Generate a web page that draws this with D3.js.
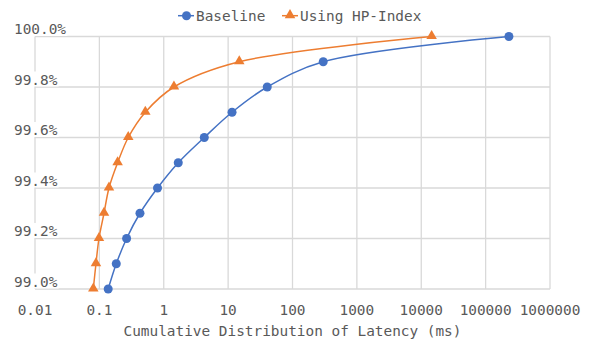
<!DOCTYPE html>
<html>
<head>
<meta charset="utf-8">
<script src="https://cdn.jsdelivr.net/npm/d3@7"></script>
<style>
  html, body { margin: 0; padding: 0; background: #fff; }
  svg { display: block; }
  text { font-family: "DejaVu Sans Mono", monospace; fill: #595959; }
</style>
</head>
<body>
<svg id="chart" width="590" height="341"></svg>
<script>
// Cumulative share of requests (percent) at each latency level
const percentiles = [99.0, 99.1, 99.2, 99.3, 99.4, 99.5, 99.6, 99.7, 99.8, 99.9, 100.0];
// Latency in ms reached at each percentile
const baselineLatency = [0.137, 0.183, 0.265, 0.427, 0.80, 1.68, 4.26, 11.5, 40.5, 300, 230000];
const hpIndexLatency = [0.0805, 0.0885, 0.0986, 0.118, 0.141, 0.192, 0.281, 0.517, 1.44, 14.9, 14500];

const seriesNames = ["Baseline", "Using HP-Index"];
const xTickValues = [0.01, 0.1, 1, 10, 100, 1000, 10000, 100000, 1000000];
const xTickLabels = ["0.01", "0.1", "1", "10", "100", "1000", "10000", "100000", "1000000"];
const yTickValues = [99.0, 99.2, 99.4, 99.6, 99.8, 100.0];
const yTickLabels = ["99.0%", "99.2%", "99.4%", "99.6%", "99.8%", "100.0%"];
const axisTitle = "Cumulative Distribution of Latency (ms)";

const colors = ["#4472C4", "#ED7D31"];
const gridColor = "#d9d9d9";
const fontSize = 14.4;

const svg = d3.select("#chart");
const plot = { left: 35, right: 550, top: 36.5, bottom: 289 };

const x = d3.scaleLog().domain([0.01, 1000000]).range([plot.left, plot.right]);
const y = d3.scaleLinear().domain([99.0, 100.0]).range([plot.bottom, plot.top]);

// Grid
const grid = svg.append("g");
grid.selectAll("line.v").data(xTickValues).join("line")
  .attr("x1", d => x(d)).attr("x2", d => x(d))
  .attr("y1", plot.top).attr("y2", plot.bottom)
  .attr("stroke", gridColor).attr("stroke-width", 1.3);
grid.selectAll("line.h").data(yTickValues).join("line")
  .attr("x1", plot.left).attr("x2", plot.right)
  .attr("y1", d => y(d)).attr("y2", d => y(d))
  .attr("stroke", gridColor).attr("stroke-width", 1.3);

// Y labels sit just above their gridline, on a white backing
const yLab = svg.append("g");
yTickValues.forEach((v, i) => {
  const g = yLab.append("g");
  const t = g.append("text")
    .attr("x", 14).attr("y", y(v) - 2.5)
    .attr("font-size", fontSize)
    .text(yTickLabels[i]);
  const bb = t.node().getBBox();
  g.insert("rect", "text")
    .attr("x", bb.x - 1).attr("y", bb.y)
    .attr("width", bb.width + 2).attr("height", bb.height - 1)
    .attr("fill", "#fff");
});

// X tick labels
svg.append("g").selectAll("text").data(xTickValues).join("text")
  .attr("x", d => x(d)).attr("y", 315)
  .attr("text-anchor", "middle")
  .attr("font-size", fontSize)
  .text((d, i) => xTickLabels[i]);

svg.append("text")
  .attr("x", 292.5).attr("y", 335.5)
  .attr("text-anchor", "middle")
  .attr("font-size", fontSize)
  .text(axisTitle);

// Series
const series = [baselineLatency, hpIndexLatency].map((lat, s) =>
  lat.map((v, i) => ({ x: v, y: percentiles[i], s })));

const line = d3.line()
  .x(d => x(d.x)).y(d => y(d.y))
  .curve(d3.curveCatmullRom.alpha(0.5));

const triangle = d3.symbol().type(d3.symbolTriangle).size(48);

series.forEach((pts, s) => {
  const g = svg.append("g");
  g.append("path").attr("d", line(pts))
    .attr("fill", "none").attr("stroke", colors[s]).attr("stroke-width", 1.5);
  if (s === 0) {
    g.selectAll("circle").data(pts).join("circle")
      .attr("cx", d => x(d.x)).attr("cy", d => y(d.y)).attr("r", 4.5)
      .attr("fill", colors[s]);
  } else {
    g.selectAll("path.m").data(pts).join("path")
      .attr("class", "m")
      .attr("transform", d => `translate(${x(d.x)},${y(d.y) - 0.5})`)
      .attr("d", triangle).attr("fill", colors[s]);
  }
});

// Legend
const legendItems = [
  { x0: 178, x1: 194, mx: 186.5, tx: 196, name: seriesNames[0], s: 0 },
  { x0: 282, x1: 298, mx: 290, tx: 300, name: seriesNames[1], s: 1 }
];
const ly = 15.7;
legendItems.forEach(it => {
  const g = svg.append("g");
  g.append("line").attr("x1", it.x0).attr("x2", it.x1)
    .attr("y1", ly).attr("y2", ly)
    .attr("stroke", colors[it.s]).attr("stroke-width", 1.5);
  if (it.s === 0) {
    g.append("circle").attr("cx", it.mx).attr("cy", ly).attr("r", 4.5).attr("fill", colors[0]);
  } else {
    g.append("path").attr("transform", `translate(${it.mx},${ly - 0.5})`)
      .attr("d", triangle).attr("fill", colors[1]);
  }
  g.append("text").attr("x", it.tx).attr("y", ly + 5)
    .attr("font-size", fontSize).text(it.name);
});
</script>
</body>
</html>
